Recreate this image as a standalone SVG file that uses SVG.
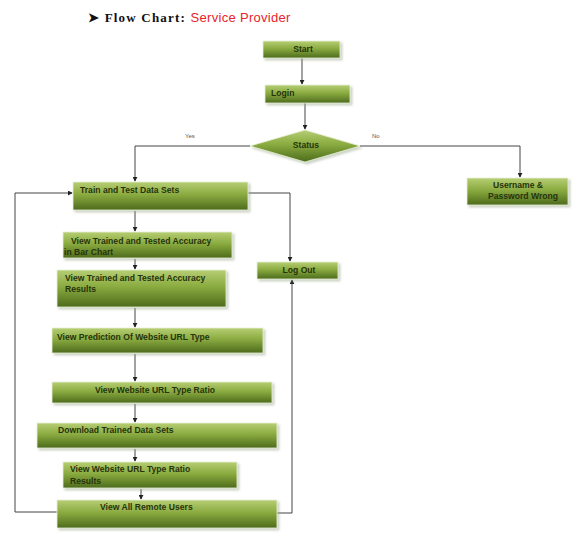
<svg xmlns="http://www.w3.org/2000/svg" width="584" height="545" viewBox="0 0 584 545">
  <style>
    .box { fill: url(#olive); stroke: #e8f0d8; stroke-width: 0.8; filter: url(#shade); }
    .lbl { font-family: "Liberation Sans", Arial, sans-serif; font-size: 8.6px; font-weight: bold; fill: #26340c; }
    .note { font-family: "Liberation Sans", Arial, sans-serif; font-size: 6px; fill: #555; }
    .wire { fill: none; stroke: #444; stroke-width: 1; }
  </style>
  <defs>
    <linearGradient id="olive" x1="0" y1="0" x2="0" y2="1">
      <stop offset="0" stop-color="#b6ce74"/>
      <stop offset="0.45" stop-color="#8aab40"/>
      <stop offset="1" stop-color="#4d6b1c"/>
    </linearGradient>
    <filter id="shade" x="-5%" y="-10%" width="115%" height="140%">
      <feDropShadow dx="2" dy="2" stdDeviation="1.2" flood-color="#9aa88a" flood-opacity="0.5"/>
    </filter>
    <marker id="tip" viewBox="0 0 6 6" refX="5" refY="3" markerWidth="5" markerHeight="5" orient="auto">
      <path d="M0,0 L6,3 L0,6 z" fill="#222"/>
    </marker>
  </defs>

  <rect width="584" height="545" fill="#ffffff"/>

  <!-- heading -->
  <text x="88" y="22" font-size="13" font-weight="bold"><tspan font-family="'Liberation Serif', 'Times New Roman', serif" fill="#111" letter-spacing="1.2">➤ Flow Chart: </tspan><tspan font-family="'Liberation Sans', Arial, sans-serif" fill="#e8232c" font-weight="normal" letter-spacing="0.3">Service Provider</tspan></text>

  <!-- connectors -->
  <g id="connectors">
    <path class="wire" d="M302,58 L302,84" marker-end="url(#tip)"/>
    <path class="wire" d="M305,103 L305,129" marker-end="url(#tip)"/>
    <path class="wire" d="M250,146 L135,146 L135,181" marker-end="url(#tip)"/>
    <path class="wire" d="M360,146 L520,146 L520,177" marker-end="url(#tip)"/>
    <path class="wire" d="M230,193 L290,193 L290,261" marker-end="url(#tip)"/>
    <path class="wire" d="M277,513 L292,513 L292,280" marker-end="url(#tip)"/>
    <path class="wire" d="M57,512 L15,512 L15,193 L72,193" marker-end="url(#tip)"/>
    <path class="wire" d="M135,211 L135,231" marker-end="url(#tip)"/>
    <path class="wire" d="M135,259 L135,269" marker-end="url(#tip)"/>
    <path class="wire" d="M135,308 L135,327" marker-end="url(#tip)"/>
    <path class="wire" d="M135,354 L135,381" marker-end="url(#tip)"/>
    <path class="wire" d="M135,404 L135,422" marker-end="url(#tip)"/>
    <path class="wire" d="M135,449 L135,461" marker-end="url(#tip)"/>
    <path class="wire" d="M141,489 L141,499" marker-end="url(#tip)"/>
  </g>

  <text class="note" x="185" y="138">Yes</text>
  <text class="note" x="372" y="138">No</text>

  <!-- nodes -->
  <g id="start">
    <rect class="box" x="263" y="41" width="77" height="17"/>
    <text class="lbl" x="303" y="52" text-anchor="middle">Start</text>
  </g>
  <g id="login">
    <rect class="box" x="265" y="85" width="85" height="18"/>
    <text class="lbl" x="271" y="96">Login</text>
  </g>
  <g id="status">
    <polygon points="250,146 305,130 360,146 305,162" fill="url(#olive)" stroke="#e8f0d8" stroke-width="0.8" filter="url(#shade)"/>
    <text class="lbl" x="306" y="148" text-anchor="middle">Status</text>
  </g>
  <g id="wrong">
    <rect class="box" x="467" y="178" width="101" height="27"/>
    <text class="lbl" x="518" y="188" text-anchor="middle">Username &amp;</text>
    <text class="lbl" x="523" y="199" text-anchor="middle">Password Wrong</text>
  </g>
  <g id="train">
    <rect class="box" x="73" y="182" width="175" height="28"/>
    <text class="lbl" x="80" y="193">Train and Test Data Sets</text>
  </g>
  <g id="bar-chart">
    <rect class="box" x="63" y="232" width="169" height="26"/>
    <text class="lbl" x="71" y="244">View Trained and Tested Accuracy</text>
    <text class="lbl" x="64" y="255">in Bar Chart</text>
  </g>
  <g id="accuracy">
    <rect class="box" x="57" y="270" width="169" height="37"/>
    <text class="lbl" x="65" y="281">View Trained and Tested Accuracy</text>
    <text class="lbl" x="65" y="292">Results</text>
  </g>
  <g id="prediction">
    <rect class="box" x="52" y="328" width="211" height="25"/>
    <text class="lbl" x="57" y="340">View Prediction Of Website URL Type</text>
  </g>
  <g id="ratio">
    <rect class="box" x="52" y="382" width="220" height="21"/>
    <text class="lbl" x="155" y="393" text-anchor="middle">View Website URL Type Ratio</text>
  </g>
  <g id="download">
    <rect class="box" x="37" y="423" width="240" height="25"/>
    <text class="lbl" x="58" y="433">Download Trained Data Sets</text>
  </g>
  <g id="ratio-results">
    <rect class="box" x="63" y="462" width="174" height="26"/>
    <text class="lbl" x="70" y="472">View Website URL Type Ratio</text>
    <text class="lbl" x="70" y="484">Results</text>
  </g>
  <g id="remote-users">
    <rect class="box" x="57" y="500" width="220" height="28"/>
    <text class="lbl" x="100" y="510">View All Remote Users</text>
  </g>
  <g id="logout">
    <rect class="box" x="257" y="262" width="81" height="17"/>
    <text class="lbl" x="299" y="273" text-anchor="middle">Log Out</text>
  </g>
</svg>
